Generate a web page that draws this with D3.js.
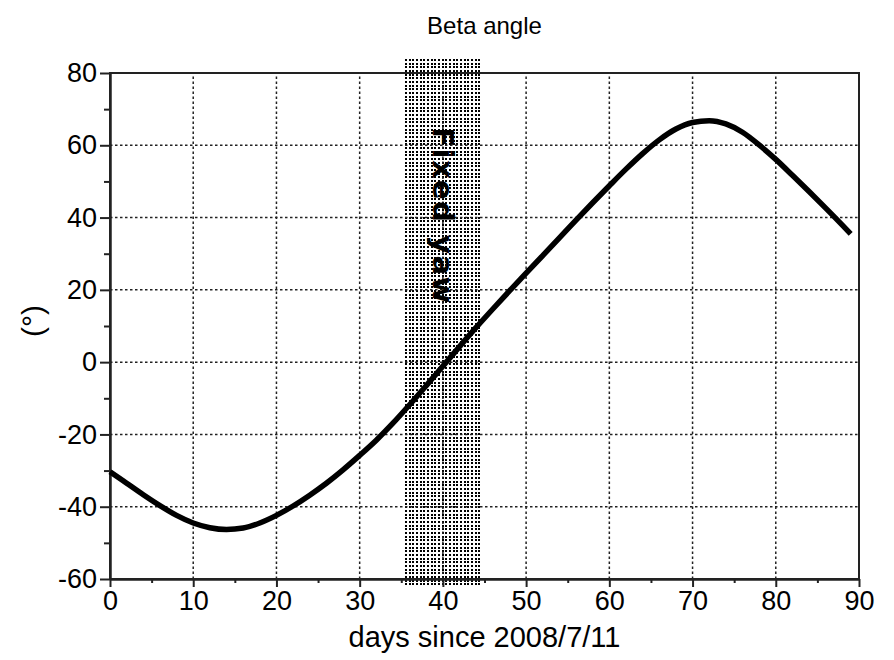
<!DOCTYPE html>
<html>
<head>
<meta charset="utf-8">
<script src="https://cdn.jsdelivr.net/npm/d3@7"></script>
<style>
  body { margin: 0; background: #fff; }
  svg { display: block; }
</style>
</head>
<body>
<svg id="chart" width="894" height="660"></svg>
<script>
// Beta angle over time (days since 2008/7/11), degrees
const days = [0, 2, 4, 6, 8, 10, 12, 14, 16, 18, 20, 22, 24, 26, 28, 30, 32, 34, 36, 38,
              40, 42, 44, 46, 48, 50, 52, 54, 56, 58, 60, 62, 64, 66, 68, 70, 72, 74, 76, 78,
              80, 82, 84, 86, 88, 89];
const beta = [-30.3, -33.5, -36.7, -39.7, -42.4, -44.5, -45.8, -46.3, -45.9, -44.5, -42.4,
              -39.8, -36.8, -33.5, -29.8, -25.8, -21.6, -16.9, -11.8, -6.5, -1.1, 4.3, 9.6,
              14.7, 19.7, 24.6, 29.5, 34.4, 39.3, 44.1, 48.8, 53.4, 57.7, 61.5, 64.5, 66.3,
              66.8, 65.9, 63.6, 60.1, 56.1, 51.7, 47.2, 42.6, 37.9, 35.5];

// Fixed-yaw period (days) and the vertical extent of its band (degrees)
const fixedYawDays = [35.3, 44.7];
const fixedYawSpan = [-61.7, 84.2];
const fixedYawLabel = "Fixed yaw";

const xTicks = [0, 10, 20, 30, 40, 50, 60, 70, 80, 90];
const xMinorTicks = [5, 15, 25, 35, 45, 55, 65, 75, 85];
const yTicks = [-60, -40, -20, 0, 20, 40, 60, 80];
const yMinorTicks = [-50, -30, -10, 10, 30, 50, 70];

const titleText = "Beta angle";
const xLabelText = "days since 2008/7/11";
const yLabelText = "(°)";

const SANS = "'Liberation Sans', Arial, Helvetica, sans-serif";

const svg = d3.select("#chart");
const x = d3.scaleLinear().domain([0, 90]).range([110, 859]);
const y = d3.scaleLinear().domain([-60, 80]).range([579, 73]);

// dotted screen for the fixed-yaw band (3 dots per 11px tile)
const bandX0 = Math.round(x(fixedYawDays[0]));
const bandX1 = Math.round(x(fixedYawDays[1]));
const bandY0 = Math.round(y(fixedYawSpan[1]));
const bandY1 = Math.round(y(fixedYawSpan[0]));
const defs = svg.append("defs");
const pat = defs.append("pattern")
  .attr("id", "dots")
  .attr("patternUnits", "userSpaceOnUse")
  .attr("x", bandX0 + 1)
  .attr("y", bandY0 + 1)
  .attr("width", 11).attr("height", 11);
pat.append("rect").attr("width", 11).attr("height", 11).attr("fill", "#fff");
const dotOffsets = [0, 4, 7];
dotOffsets.forEach(ox => dotOffsets.forEach(oy => {
  pat.append("rect").attr("x", ox).attr("y", oy)
    .attr("width", 2).attr("height", 2).attr("fill", "#000");
}));

svg.append("rect")
  .attr("x", bandX0)
  .attr("y", bandY0)
  .attr("width", bandX1 - bandX0)
  .attr("height", bandY1 - bandY0)
  .attr("fill", "url(#dots)")
  .attr("shape-rendering", "crispEdges");

// dotted grid
const grid = svg.append("g")
  .attr("stroke", "#222").attr("stroke-width", 1.5)
  .attr("stroke-dasharray", "2.5,2.5").attr("fill", "none");
grid.selectAll("line.v").data(xTicks.slice(1, -1)).join("line")
  .attr("class", "v")
  .attr("x1", d => x(d)).attr("x2", d => x(d))
  .attr("y1", y(-60)).attr("y2", y(80));
grid.selectAll("line.h").data(yTicks.slice(1, -1)).join("line")
  .attr("class", "h")
  .attr("x1", x(0)).attr("x2", x(90))
  .attr("y1", d => y(d)).attr("y2", d => y(d));

// frame
svg.append("rect")
  .attr("x", x(0)).attr("y", y(80))
  .attr("width", x(90) - x(0)).attr("height", y(-60) - y(80))
  .attr("fill", "none").attr("stroke", "#222").attr("stroke-width", 2);

// axes
const plainNumber = d => String(d);
function styleAxis(g) {
  g.selectAll("path, line").attr("stroke", "#222").attr("stroke-width", 2);
  g.selectAll("text").style("font-size", "27px").style("fill", "#000")
    .style("font-family", SANS);
}

svg.append("g")
  .attr("transform", `translate(0,${y(-60)})`)
  .call(d3.axisBottom(x).tickValues(xTicks).tickSize(8).tickSizeOuter(0).tickPadding(4)
    .tickFormat(plainNumber))
  .call(styleAxis);
svg.append("g")
  .attr("transform", `translate(0,${y(-60)})`)
  .call(d3.axisBottom(x).tickValues(xMinorTicks).tickSize(4).tickSizeOuter(0).tickFormat(""))
  .call(styleAxis);

svg.append("g")
  .attr("transform", `translate(${x(0)},0)`)
  .call(d3.axisLeft(y).tickValues(yTicks).tickSize(10).tickSizeOuter(0).tickPadding(3)
    .tickFormat(plainNumber))
  .call(styleAxis);
svg.append("g")
  .attr("transform", `translate(${x(0)},0)`)
  .call(d3.axisLeft(y).tickValues(yMinorTicks).tickSize(6).tickSizeOuter(0).tickFormat(""))
  .call(styleAxis);

// beta angle curve
const line = d3.line()
  .x((d, i) => x(days[i]))
  .y(d => y(d))
  .curve(d3.curveMonotoneX);
svg.append("path")
  .datum(beta)
  .attr("d", line)
  .attr("fill", "none")
  .attr("stroke", "#000")
  .attr("stroke-width", 5.5)
  .attr("stroke-linejoin", "round");

// band label, reading downward
svg.append("text")
  .attr("transform", `translate(${bandX0 + 29},216) rotate(90)`)
  .attr("text-anchor", "middle")
  .style("font-family", "'DejaVu Sans', sans-serif")
  .style("font-weight", "bold")
  .style("font-size", "29px")
  .style("letter-spacing", "1.5px")
  .style("fill", "#000")
  .text(fixedYawLabel);

// titles
svg.append("text")
  .attr("x", (x(0) + x(90)) / 2).attr("y", 34)
  .attr("text-anchor", "middle")
  .style("font-family", SANS).style("font-size", "24px")
  .text(titleText);
svg.append("text")
  .attr("x", (x(0) + x(90)) / 2).attr("y", 647)
  .attr("text-anchor", "middle")
  .style("font-family", SANS).style("font-size", "29px")
  .text(xLabelText);
svg.append("text")
  .attr("transform", "translate(43,321) rotate(-90)")
  .attr("text-anchor", "middle")
  .style("font-family", SANS).style("font-size", "30px")
  .text(yLabelText);
</script>
</body>
</html>
